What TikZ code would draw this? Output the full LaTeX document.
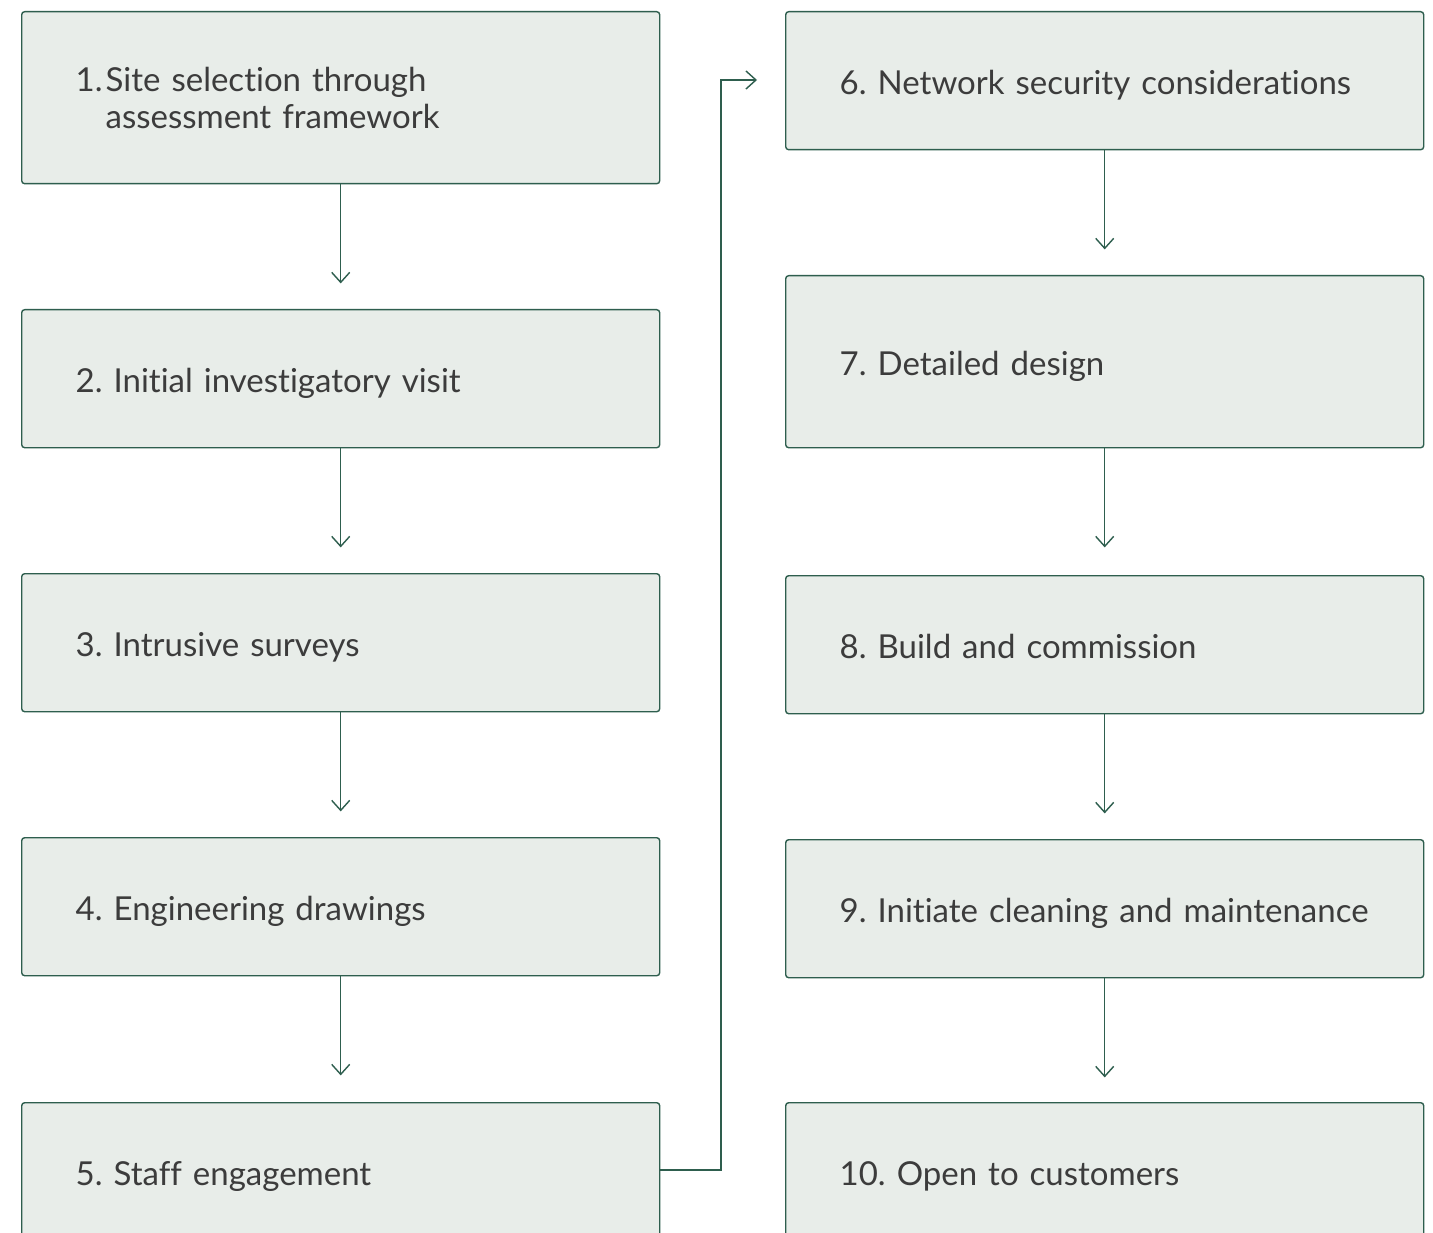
\documentclass[tikz,border=0pt]{standalone}
\usepackage{fontspec}
\setmainfont[Ligatures=NoCommon]{Lato}
\usetikzlibrary{arrows.meta}
\definecolor{boxfill}{HTML}{E8EDE9}
\definecolor{boxline}{HTML}{2E5E4E}
\definecolor{txt}{HTML}{3C3C3C}
\tikzset{
  stepbox/.style={draw=boxline, line width=1.4pt, fill=boxfill, rounded corners=3pt,
    minimum width=638pt, text width=530pt, inner xsep=54pt, inner ysep=0pt,
    align=left, text=txt, font=\fontsize{33}{38}\selectfont\frenchspacing, anchor=north west},
  oneline/.style={stepbox, text height=33pt, text depth=6pt},
  flow/.style={draw=boxline, line width=1.4pt, -{Straight Barb[length=10pt,width=18pt,line width=1.4pt]}},
}
\begin{document}
\begin{tikzpicture}[x=1pt,y=-1pt]
\clip (0,0) rectangle (1433,1233);
\fill[white] (0,0) rectangle (1433,1233);
\node[stepbox, minimum height=172pt] (b1) at (21,11) {\begin{tabular}{@{}l@{}l@{}}\rule{0pt}{37pt}\makebox[30pt][l]{1.} & Site selection through\\[-1pt] & assessment framework\end{tabular}};
\node[oneline, minimum height=138pt] (b2) at (21,309) {2. Initial investigatory visit};
\node[oneline, minimum height=138pt] (b3) at (21,573) {3. Intrusive surveys};
\node[oneline, minimum height=138pt] (b4) at (21,837) {4. Engineering drawings};
\node[oneline, minimum height=138pt] (b5) at (21,1102) {5. Staff engagement};
\node[oneline, minimum width=637pt, minimum height=138pt] (b6) at (785,11) {6. Network security considerations};
\node[oneline, minimum width=637pt, minimum height=172pt] (b7) at (785,275) {7. Detailed design};
\node[oneline, minimum width=637pt, minimum height=138pt] (b8) at (785,575) {8. Build and commission};
\node[oneline, minimum width=637pt, minimum height=138pt] (b9) at (785,839) {9. Initiate cleaning and maintenance};
\node[oneline, minimum width=637pt, minimum height=138pt] (b10) at (785,1102) {10. Open to customers};
\draw[flow] (b1.south) -- ++(0,99);
\draw[flow] (b2.south) -- ++(0,99);
\draw[flow] (b3.south) -- ++(0,99);
\draw[flow] (b4.south) -- ++(0,99);
\draw[flow] (b6.south) -- ++(0,99);
\draw[flow] (b7.south) -- ++(0,99);
\draw[flow] (b8.south) -- ++(0,99);
\draw[flow] (b9.south) -- ++(0,99);
\coordinate (e6) at (757,80);
\draw[flow] (b5.east |- 0,1170) -- (721,1170) -- (721,80) -- (e6);
\end{tikzpicture}
\end{document}
